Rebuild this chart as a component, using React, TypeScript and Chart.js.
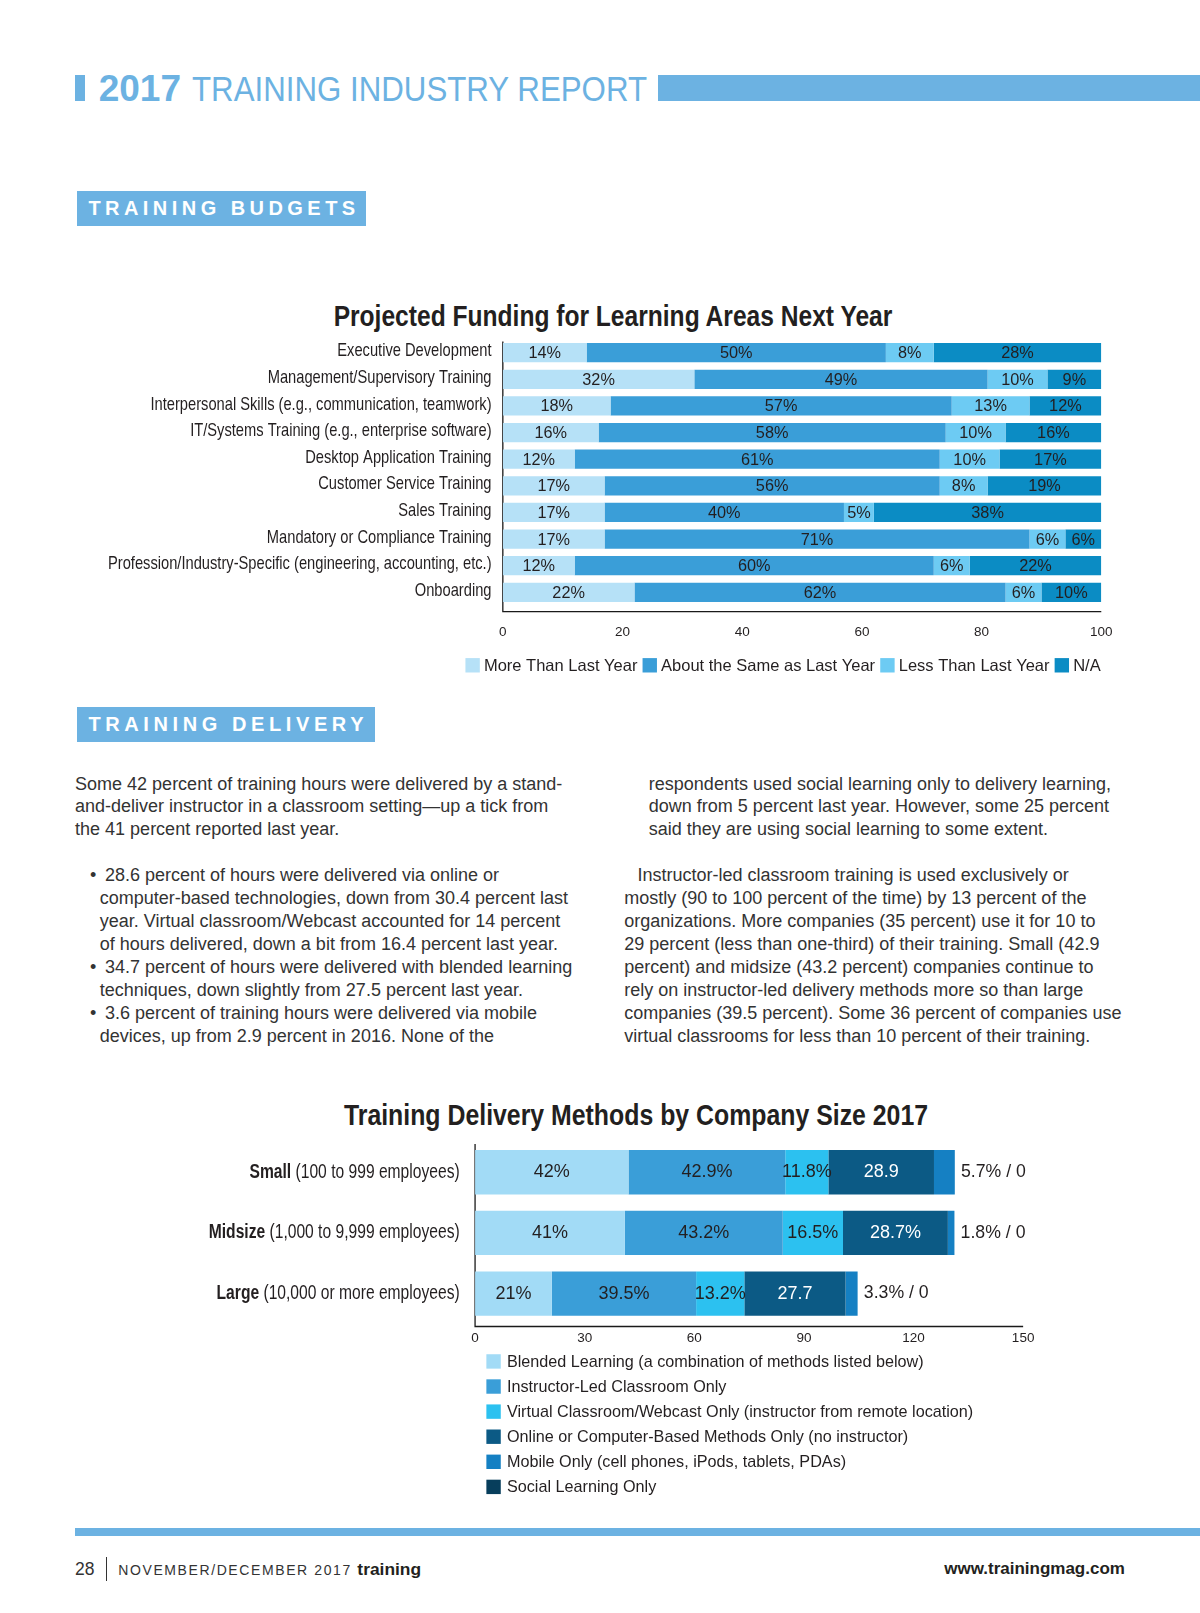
import React, { useEffect, useRef } from "react";
import { Chart, registerables } from "chart.js";

Chart.register(...registerables);

// ---------- DATA: Projected Funding ----------
const fundingAreas = [
  "Executive Development",
  "Management/Supervisory Training",
  "Interpersonal Skills (e.g., communication, teamwork)",
  "IT/Systems Training (e.g., enterprise software)",
  "Desktop Application Training",
  "Customer Service Training",
  "Sales Training",
  "Mandatory or Compliance Training",
  "Profession/Industry-Specific (engineering, accounting, etc.)",
  "Onboarding",
];
const fundingSeries = ["More Than Last Year", "About the Same as Last Year", "Less Than Last Year", "N/A"];
const moreThanLastYear = [14, 32, 18, 16, 12, 17, 17, 17, 12, 22];
const aboutTheSame = [50, 49, 57, 58, 61, 56, 40, 71, 60, 62];
const lessThanLastYear = [8, 10, 13, 10, 10, 8, 5, 6, 6, 6];
const notApplicable = [28, 9, 12, 16, 17, 19, 38, 6, 22, 10];
const fundingTickStep = 20;
const fundingMax = 100;

// ---------- DATA: Delivery Methods ----------
const companySizes = ["Small", "Midsize", "Large"];
const companySizeNotes = ["(100 to 999 employees)", "(1,000 to 9,999 employees)", "(10,000 or more employees)"];
const deliveryMethods = [
  "Blended Learning (a combination of methods listed below)",
  "Instructor-Led Classroom Only",
  "Virtual Classroom/Webcast Only (instructor from remote location)",
  "Online or Computer-Based Methods Only (no instructor)",
  "Mobile Only (cell phones, iPods, tablets, PDAs)",
  "Social Learning Only",
];
const blendedLearning = [42, 41, 21];
const instructorLed = [42.9, 43.2, 39.5];
const virtualClassroom = [11.8, 16.5, 13.2];
const onlineComputer = [28.9, 28.7, 27.7];
const mobileOnly = [5.7, 1.8, 3.3];
const socialOnly = [0, 0, 0];
const blendedLabels = ["42%", "41%", "21%"];
const instructorLabels = ["42.9%", "43.2%", "39.5%"];
const virtualLabels = ["11.8%", "16.5%", "13.2%"];
const onlineLabels = ["28.9", "28.7%", "27.7"];
const endLabels = ["5.7% / 0", "1.8% / 0", "3.3% / 0"];
const deliveryTickStep = 30;
const deliveryMax = 150;

// ---------- STYLE / LAYOUT ----------
const S = 1200 / 1167;
const P = (v: number) => v * S;
const TEXT = "#231f20";
const SANS = '"Liberation Sans", Arial, Helvetica, sans-serif';
const BLUE = "#6cb2e2";
const fundingColors = ["#b6e1f7", "#3a9ed8", "#6dcbf3", "#0b8cc4"];
const deliveryColors = ["#a2dbf6", "#3a9ed8", "#2cc1f0", "#0c5a85", "#1580c3", "#073e5c"];

const CHART1_TOP = 320;
const CHART1_H = 380;
const CHART2_TOP = 1130;
const CHART2_H = 400;

function fundingConfig(): any {
  const series = [moreThanLastYear, aboutTheSame, lessThanLastYear, notApplicable];
  const plugin = {
    id: "fundingDecor",
    beforeDatasetsDraw(chart: any) {
      const ctx = chart.ctx;
      const { left, right, top, bottom } = chart.chartArea;
      ctx.save();
      ctx.strokeStyle = "#1a1a1a";
      ctx.lineWidth = 1.3;
      ctx.beginPath();
      ctx.moveTo(left, top + 2);
      ctx.lineTo(left, bottom + 6);
      ctx.lineTo(right, bottom + 6);
      ctx.stroke();
      ctx.restore();
    },
    afterDatasetsDraw(chart: any) {
      const ctx = chart.ctx;
      ctx.save();
      ctx.font = `16.3px ${SANS}`;
      ctx.fillStyle = TEXT;
      ctx.textAlign = "center";
      ctx.textBaseline = "middle";
      chart.data.datasets.forEach((ds: any, i: number) => {
        const meta = chart.getDatasetMeta(i);
        meta.data.forEach((bar: any, j: number) => {
          const cx = (bar.x + bar.base) / 2;
          ctx.fillText(`${ds.data[j]}%`, cx, bar.y + 1);
        });
      });
      // category labels (condensed)
      const yScale = chart.scales.y;
      ctx.font = `18.6px ${SANS}`;
      let maxW = 0;
      fundingAreas.forEach((t) => (maxW = Math.max(maxW, ctx.measureText(t).width)));
      const sx = Math.min(1, P(373) / maxW);
      ctx.textAlign = "right";
      fundingAreas.forEach((t, j) => {
        const y = yScale.getPixelForValue(j);
        ctx.save();
        ctx.translate(P(478), y - 1.5);
        ctx.scale(sx, 1);
        ctx.fillText(t, 0, 0);
        ctx.restore();
      });
      // legend row
      ctx.font = `16.5px ${SANS}`;
      ctx.textAlign = "left";
      const box = P(14), gap1 = P(4), gap2 = P(5);
      const items = chart.data.datasets.map((d: any) => ({ label: d.label, color: d.backgroundColor, w: ctx.measureText(d.label).width }));
      const total = items.reduce((s: number, it: any) => s + box + gap1 + it.w, 0) + gap2 * (items.length - 1);
      let x = P(761.5) - total / 2;
      const ly = P(647) - CHART1_TOP;
      items.forEach((it: any) => {
        ctx.fillStyle = it.color;
        ctx.fillRect(x, ly - box / 2, box, box);
        ctx.fillStyle = TEXT;
        ctx.fillText(it.label, x + box + gap1, ly + 1);
        x += box + gap1 + it.w + gap2;
      });
      ctx.restore();
    },
  };
  const areaTop = P(343) - P(25.9) / 2 - CHART1_TOP;
  const areaBottom = P(576) + P(25.9) / 2 - CHART1_TOP;
  const axisH = 44;
  return {
    type: "bar",
    data: {
      labels: fundingAreas,
      datasets: fundingSeries.map((label, i) => ({
        label,
        data: series[i],
        backgroundColor: fundingColors[i],
        borderWidth: 0,
        barPercentage: 0.72,
        categoryPercentage: 1,
      })),
    },
    options: {
      indexAxis: "y",
      responsive: false,
      animation: false,
      layout: { padding: { top: areaTop, right: 1200 - P(1071), bottom: CHART1_H - areaBottom - axisH, left: 0 } },
      plugins: { legend: { display: false }, tooltip: { enabled: false }, title: { display: false } },
      scales: {
        x: {
          stacked: true,
          min: 0,
          max: fundingMax,
          ticks: { stepSize: fundingTickStep, padding: P(614) - CHART1_TOP - areaBottom - 6.8, color: TEXT, font: { family: SANS, size: 13.5 } },
          grid: { display: false, drawTicks: false },
          border: { display: false },
          afterFit: (s: any) => { s.height = axisH; },
        },
        y: {
          stacked: true,
          ticks: { display: false },
          grid: { display: false, drawTicks: false },
          border: { display: false },
          afterFit: (s: any) => { s.width = P(489); },
        },
      },
    },
    plugins: [plugin],
  };
}

function deliveryConfig(): any {
  const series = [blendedLearning, instructorLed, virtualClassroom, onlineComputer, mobileOnly, socialOnly];
  const inLabels = [blendedLabels, instructorLabels, virtualLabels, onlineLabels];
  const plugin = {
    id: "deliveryDecor",
    beforeDatasetsDraw(chart: any) {
      const ctx = chart.ctx;
      const { left, right, top, bottom } = chart.chartArea;
      ctx.save();
      ctx.strokeStyle = "#1a1a1a";
      ctx.lineWidth = 1.3;
      ctx.beginPath();
      ctx.moveTo(left, top + 2);
      ctx.lineTo(left, bottom + 2.6);
      ctx.lineTo(right, bottom + 2.6);
      ctx.stroke();
      ctx.restore();
    },
    afterDatasetsDraw(chart: any) {
      const ctx = chart.ctx;
      ctx.save();
      ctx.font = `18px ${SANS}`;
      ctx.textBaseline = "middle";
      ctx.textAlign = "center";
      inLabels.forEach((labs, i) => {
        const meta = chart.getDatasetMeta(i);
        meta.data.forEach((bar: any, j: number) => {
          ctx.fillStyle = i === 3 ? "#ffffff" : TEXT;
          ctx.fillText(labs[j], (bar.x + bar.base) / 2, bar.y);
        });
      });
      // end labels
      ctx.font = `17.7px ${SANS}`;
      ctx.textAlign = "left";
      ctx.fillStyle = TEXT;
      const lastMeta = chart.getDatasetMeta(series.length - 1);
      lastMeta.data.forEach((bar: any, j: number) => {
        ctx.fillText(endLabels[j], Math.max(bar.x, bar.base) + P(6), bar.y);
      });
      // category labels: bold size + regular note (condensed)
      const yScale = chart.scales.y;
      const bold = `bold 20px ${SANS}`;
      const reg = `20px ${SANS}`;
      ctx.font = bold;
      const wbMid = ctx.measureText(companySizes[1]).width;
      ctx.font = reg;
      const wrMid = ctx.measureText(" " + companySizeNotes[1]).width;
      const sx = Math.min(1, P(244) / (wbMid + wrMid));
      ctx.textAlign = "right";
      companySizes.forEach((name, j) => {
        const y = yScale.getPixelForValue(j);
        ctx.save();
        ctx.translate(P(447), y);
        ctx.scale(sx, 1);
        ctx.font = reg;
        const note = " " + companySizeNotes[j];
        const wr = ctx.measureText(note).width;
        ctx.fillText(note, 0, 0);
        ctx.font = bold;
        ctx.fillText(name, -wr, 0);
        ctx.restore();
      });
      // vertical legend
      ctx.font = `16.2px ${SANS}`;
      ctx.textAlign = "left";
      const box = P(14);
      chart.data.datasets.forEach((ds: any, i: number) => {
        const ly = P(1324 + 24.4 * i) - CHART2_TOP;
        ctx.fillStyle = ds.backgroundColor;
        ctx.fillRect(P(473), ly - box / 2, box, box);
        ctx.fillStyle = TEXT;
        ctx.fillText(ds.label, P(493), ly + 1);
      });
      ctx.restore();
    },
  };
  const areaTop = P(1140) - P(59) / 2 - CHART2_TOP;
  const areaBottom = P(1258) + P(59) / 2 - CHART2_TOP;
  const axisH = 30;
  return {
    type: "bar",
    data: {
      labels: companySizes,
      datasets: deliveryMethods.map((label, i) => ({
        label,
        data: series[i],
        backgroundColor: deliveryColors[i],
        borderWidth: 0,
        barPercentage: 0.73,
        categoryPercentage: 1,
      })),
    },
    options: {
      indexAxis: "y",
      responsive: false,
      animation: false,
      layout: { padding: { top: areaTop, right: 1200 - P(995), bottom: CHART2_H - areaBottom - axisH, left: 0 } },
      plugins: { legend: { display: false }, tooltip: { enabled: false }, title: { display: false } },
      scales: {
        x: {
          stacked: true,
          min: 0,
          max: deliveryMax,
          ticks: { stepSize: deliveryTickStep, padding: P(1300) - CHART2_TOP - areaBottom - 6.8, color: TEXT, font: { family: SANS, size: 13.5 } },
          grid: { display: false, drawTicks: false },
          border: { display: false },
          afterFit: (s: any) => { s.height = axisH; },
        },
        y: {
          stacked: true,
          ticks: { display: false },
          grid: { display: false, drawTicks: false },
          border: { display: false },
          afterFit: (s: any) => { s.width = P(462); },
        },
      },
    },
    plugins: [plugin],
  };
}

function ChartCanvas({ make, top, height }: { make: () => any; top: number; height: number }) {
  const ref = useRef<HTMLCanvasElement>(null);
  useEffect(() => {
    const chart = new Chart(ref.current as HTMLCanvasElement, make());
    return () => chart.destroy();
  }, []);
  return (
    <canvas
      ref={ref}
      width={1200}
      height={height}
      style={{ position: "absolute", left: 0, top, width: 1200, height }}
    />
  );
}

const leftLines: { t: string; x: number; k: number; bullet?: boolean }[] = [
  { t: "Some 42 percent of training hours were delivered by a stand-", x: 73, k: 0 },
  { t: "and-deliver instructor in a classroom setting\u2014up a tick from", x: 73, k: 1 },
  { t: "the 41 percent reported last year.", x: 73, k: 2 },
  { t: "28.6 percent of hours were delivered via online or", x: 87.5, k: 4, bullet: true },
  { t: "computer-based technologies, down from 30.4 percent last", x: 97, k: 5 },
  { t: "year. Virtual classroom/Webcast accounted for 14 percent", x: 97, k: 6 },
  { t: "of hours delivered, down a bit from 16.4 percent last year.", x: 97, k: 7 },
  { t: "34.7 percent of hours were delivered with blended learning", x: 87.5, k: 8, bullet: true },
  { t: "techniques, down slightly from 27.5 percent last year.", x: 97, k: 9 },
  { t: "3.6 percent of training hours were delivered via mobile", x: 87.5, k: 10, bullet: true },
  { t: "devices, up from 2.9 percent in 2016. None of the", x: 97, k: 11 },
];
const rightLines: { t: string; x: number; k: number; bullet?: boolean }[] = [
  { t: "respondents used social learning only to delivery learning,", x: 631, k: 0 },
  { t: "down from 5 percent last year. However, some 25 percent", x: 631, k: 1 },
  { t: "said they are using social learning to some extent.", x: 631, k: 2 },
  { t: "Instructor-led classroom training is used exclusively or", x: 620, k: 4 },
  { t: "mostly (90 to 100 percent of the time) by 13 percent of the", x: 607, k: 5 },
  { t: "organizations. More companies (35 percent) use it for 10 to", x: 607, k: 6 },
  { t: "29 percent (less than one-third) of their training. Small (42.9", x: 607, k: 7 },
  { t: "percent) and midsize (43.2 percent) companies continue to", x: 607, k: 8 },
  { t: "rely on instructor-led delivery methods more so than large", x: 607, k: 9 },
  { t: "companies (39.5 percent). Some 36 percent of companies use", x: 607, k: 10 },
  { t: "virtual classrooms for less than 10 percent of their training.", x: 607, k: 11 },
];

function BodyLine({ t, x, k, bullet }: { t: string; x: number; k: number; bullet?: boolean }) {
  const y = P(762 + 22.3 * k);
  return (
    <div
      style={{
        position: "absolute",
        left: P(x),
        top: y - 11,
        lineHeight: "22px",
        fontSize: 18,
        fontFamily: SANS,
        color: "#333",
        whiteSpace: "nowrap",
      }}
    >
      {bullet ? <span style={{ display: "inline-block", width: P(14.5) }}>{"\u2022"}</span> : null}
      {t}
    </div>
  );
}

function SectionBox({ text, top, width, spacing }: { text: string; top: number; width: number; spacing: number }) {
  return (
    <div
      style={{
        position: "absolute",
        left: P(75),
        top: P(top),
        width: P(width),
        height: P(34),
        background: BLUE,
        color: "#fff",
        fontFamily: SANS,
        fontWeight: "bold",
        fontSize: 20,
        letterSpacing: `${spacing}px`,
        lineHeight: `${P(34)}px`,
        paddingLeft: P(11),
        boxSizing: "border-box",
        whiteSpace: "nowrap",
      }}
    >
      {text}
    </div>
  );
}

function Title({ text, cx, baseline, sx }: { text: string; cx: number; baseline: number; sx: number }) {
  const F = 29.8;
  const L = 36;
  return (
    <div
      style={{
        position: "absolute",
        left: P(cx) - 500,
        width: 1000,
        top: P(baseline) - L / 2 - 0.3465 * F,
        textAlign: "center",
        fontFamily: SANS,
        fontWeight: "bold",
        fontSize: F,
        lineHeight: `${L}px`,
        color: TEXT,
        whiteSpace: "nowrap",
        transform: `scaleX(${sx})`,
        transformOrigin: "center top",
      }}
    >
      {text}
    </div>
  );
}

export default function App() {
  const headBase = P(98);
  return (
    <div
      style={{
        position: "absolute",
        left: 0,
        top: 0,
        width: 1200,
        height: 1613,
        background: "#fff",
        overflow: "hidden",
      }}
    >
      {/* header */}
      <div style={{ position: "absolute", left: P(73), top: P(73), width: P(10), height: P(25), background: BLUE }} />
      <div style={{ position: "absolute", left: P(640), top: P(73), width: 1200 - P(640), height: P(25), background: BLUE }} />
      <div
        style={{
          position: "absolute",
          left: P(96),
          top: headBase - 22 - 0.3465 * 37 + 1,
          lineHeight: "44px",
          color: BLUE,
          whiteSpace: "nowrap",
          fontFamily: SANS,
          fontWeight: "bold",
          fontSize: 37,
        }}
      >
        2017
      </div>
      <div
        style={{
          position: "absolute",
          left: P(187),
          top: headBase - 22 - 0.3465 * 35,
          lineHeight: "44px",
          color: BLUE,
          whiteSpace: "nowrap",
          fontFamily: SANS,
          fontSize: 35,
          transform: "scaleX(0.893)",
          transformOrigin: "left top",
        }}
      >
        TRAINING INDUSTRY REPORT
      </div>

      <SectionBox text="TRAINING BUDGETS" top={186} width={281} spacing={4.45} />

      <Title text="Projected Funding for Learning Areas Next Year" cx={596.5} baseline={317} sx={0.825} />

      <ChartCanvas make={fundingConfig} top={CHART1_TOP} height={CHART1_H} />

      <SectionBox text="TRAINING DELIVERY" top={688} width={290} spacing={4.6} />

      {leftLines.map((l, i) => (
        <BodyLine key={"l" + i} {...l} />
      ))}
      {rightLines.map((l, i) => (
        <BodyLine key={"r" + i} {...l} />
      ))}

      <Title text="Training Delivery Methods by Company Size 2017" cx={618.5} baseline={1094} sx={0.834} />

      <ChartCanvas make={deliveryConfig} top={CHART2_TOP} height={CHART2_H} />

      {/* footer */}
      <div style={{ position: "absolute", left: P(73), top: P(1486), width: 1200 - P(73), height: P(8), background: BLUE }} />
      <div
        style={{
          position: "absolute",
          left: P(73),
          top: P(1526) - 11,
          lineHeight: "22px",
          fontFamily: SANS,
          fontSize: 17.5,
          color: "#333",
        }}
      >
        28
      </div>
      <div style={{ position: "absolute", left: P(103), top: P(1514), width: 1.5, height: P(24), background: "#333" }} />
      <div
        style={{
          position: "absolute",
          left: P(115),
          top: P(1526) - 11,
          lineHeight: "22px",
          fontFamily: SANS,
          fontSize: 14,
          letterSpacing: "1.6px",
          color: "#333",
          whiteSpace: "nowrap",
        }}
      >
        NOVEMBER/DECEMBER 2017{" "}
        <span style={{ fontWeight: "bold", fontSize: 17.4, letterSpacing: "0px", color: TEXT }}>training</span>
      </div>
      <div
        style={{
          position: "absolute",
          right: 1200 - P(1094),
          top: P(1526) - 11,
          lineHeight: "22px",
          fontFamily: SANS,
          fontWeight: "bold",
          fontSize: 17,
          color: TEXT,
          whiteSpace: "nowrap",
        }}
      >
        www.trainingmag.com
      </div>
    </div>
  );
}
